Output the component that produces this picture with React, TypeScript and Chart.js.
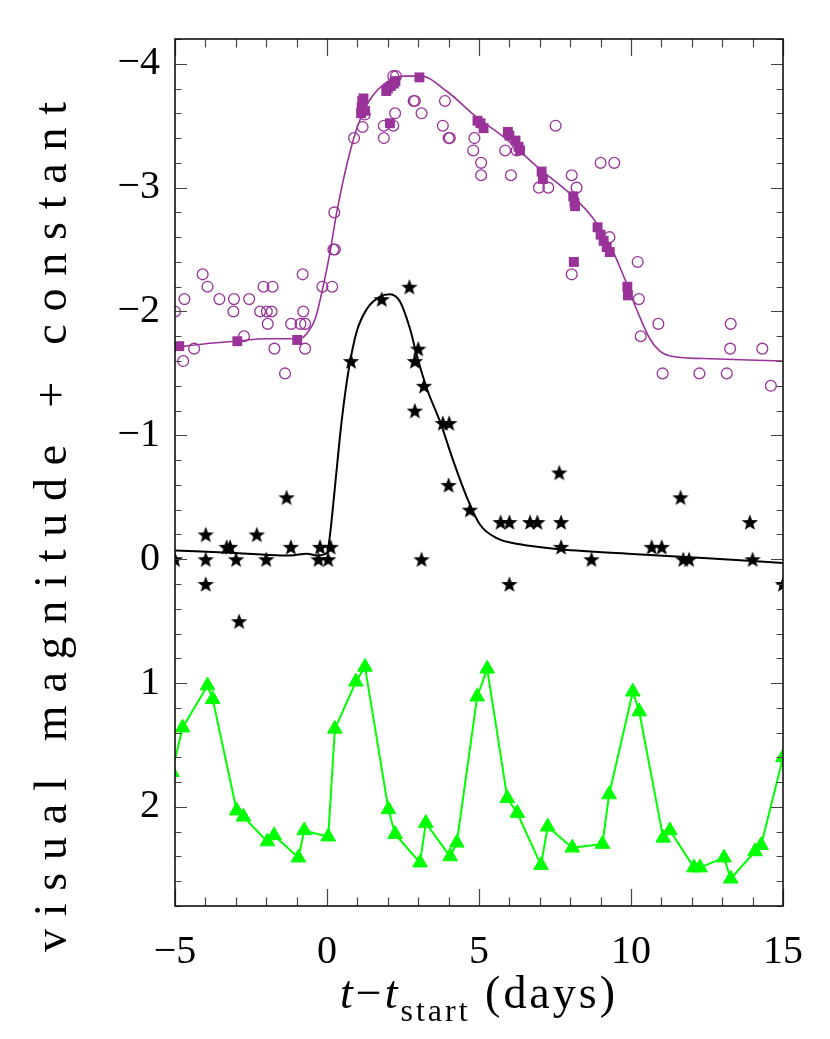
import React, { useEffect, useRef } from 'react';
import { Chart, registerables } from 'chart.js';
Chart.register(...registerables);

// ---- axis ticks ----
const xTickValues = [-5, 0, 5, 10, 15];
const yTickValues = [-4, -3, -2, -1, 0, 1, 2];
const xRange = [-5, 15];
const yRange = [-4.2, 2.8];

// ---- purple open circles ----
const purpleCircleX = [-5.0, -4.69, -4.73, -4.37, -4.09, -3.93, -3.54, -3.06, -3.08, -2.73, -2.56, -2.2, -2.09, -1.79, -1.98, -1.82, -1.95, -1.73, -1.38, -1.18, -0.8, -0.78, -0.87, -0.72, -0.72, -0.15, 0.17, 0.21, 0.26, 0.24, 0.89, 1.17, 1.24, 2.18, 2.27, 2.24, 1.87, 2.18, 1.87, 2.85, 2.89, 3.11, 3.88, 3.81, 4.0, 4.04, 4.85, 4.81, 5.07, 5.07, 6.05, 5.86, 6.24, 7.52, 6.97, 7.28, 8.05, 8.21, 8.05, 9.0, 9.45, 9.29, 10.22, 10.26, 10.9, 10.32, 11.04, 12.25, 13.15, 13.28, 13.26, 14.32, 14.6];
const purpleCircleY = [-2.0, -2.1, -1.6, -1.7, -2.3, -2.2, -2.1, -2.1, -2.0, -1.8, -2.1, -2.0, -2.2, -2.2, -2.0, -2.0, -1.9, -1.7, -1.5, -1.9, -2.3, -2.0, -1.9, -1.9, -1.7, -2.2, -2.2, -2.5, -2.5, -2.8, -3.4, -3.49, -3.59, -3.9, -3.9, -3.6, -3.5, -3.5, -3.4, -3.7, -3.7, -3.6, -3.7, -3.5, -3.4, -3.4, -3.4, -3.3, -3.2, -3.1, -3.1, -3.3, -3.3, -3.5, -3.0, -3.0, -3.1, -3.0, -2.3, -3.2, -3.2, -2.6, -2.4, -2.1, -1.9, -1.8, -1.5, -1.5, -1.5, -1.9, -1.7, -1.7, -1.4];

// ---- purple filled squares ----
const purpleSquareX = [-4.86, -2.95, -0.98, 1.12, 1.14, 1.16, 1.2, 1.25, 1.95, 2.0, 2.1, 2.2, 2.25, 2.07, 3.04, 4.95, 5.05, 5.15, 5.95, 6.0, 6.2, 6.3, 6.35, 7.06, 7.1, 8.1, 8.14, 8.16, 8.12, 8.9, 9.0, 9.1, 9.2, 9.3, 9.88, 9.9];
const purpleSquareY = [-1.72, -1.76, -1.77, -3.6, -3.65, -3.7, -3.72, -3.62, -3.78, -3.8, -3.82, -3.84, -3.86, -3.52, -3.89, -3.54, -3.52, -3.48, -3.45, -3.42, -3.38, -3.33, -3.3, -3.13, -3.07, -2.93, -2.88, -2.85, -2.4, -2.68, -2.62, -2.57, -2.52, -2.48, -2.2, -2.13];

// ---- purple smooth curve ----
const purpleCurveX = [-5, -4, -3, -2, -1, -0.8, -0.67, -0.39, -0.12, 0.1, 0.32, 0.59, 0.87, 1.09, 1.41, 1.96, 2.51, 3.1, 3.93, 4.87, 5.91, 7.0, 8.0, 8.76, 9.36, 9.8, 10.18, 10.62, 10.95, 11.28, 12.38, 15];
const purpleCurveY = [-1.71, -1.74, -1.76, -1.78, -1.78, -1.79, -1.82, -1.94, -2.21, -2.48, -2.8, -3.12, -3.39, -3.55, -3.71, -3.85, -3.9, -3.9, -3.78, -3.58, -3.39, -3.15, -2.95, -2.75, -2.51, -2.26, -2.02, -1.78, -1.68, -1.64, -1.62, -1.6];

// ---- black stars ----
const starX = [-5.0, -3.99, -3.99, -3.99, -3.3, -3.19, -2.99, -2.89, -2.31, -2.0, -1.33, -1.19, -0.23, -0.28, 0.04, 0.12, 0.79, 1.8, 2.71, 3.0, 2.89, 3.19, 2.89, 3.11, 3.81, 4.02, 4.0, 4.7, 5.71, 6.0, 6.0, 6.68, 6.92, 7.64, 7.7, 7.7, 8.7, 10.68, 11.01, 11.63, 11.72, 11.91, 13.91, 14.0, 15.0];
const starY = [0, -0.2, 0, 0.2, -0.1, -0.1, 0, 0.5, -0.2, 0, -0.5, -0.1, -0.1, 0, 0, -0.1, -1.6, -2.1, -2.2, -1.7, -1.6, -1.4, -1.2, 0, -1.1, -1.1, -0.6, -0.4, -0.3, -0.3, 0.2, -0.3, -0.3, -0.7, -0.3, -0.1, 0, -0.1, -0.1, -0.5, 0, 0, -0.3, 0, 0.2];

// ---- black smooth curve ----
const blackCurveX = [-5, -3, -1.5, -1.2, -0.67, -0.34, 0.0, 0.1, 0.26, 0.48, 0.7, 0.98, 1.31, 1.74, 2.07, 2.4, 2.73, 2.95, 3.28, 3.72, 4.16, 4.6, 5.03, 5.58, 6.35, 7.66, 10.19, 12.38, 15];
const blackCurveY = [-0.07, -0.05, -0.03, -0.03, -0.045, -0.03, -0.05, -0.2, -0.58, -1.11, -1.51, -1.84, -2.02, -2.12, -2.14, -2.08, -1.86, -1.65, -1.38, -1.11, -0.79, -0.5, -0.28, -0.17, -0.12, -0.08, -0.04, -0.01, 0.03];

// ---- green triangles (connected) ----
const greenX = [-5.1, -4.75, -3.93, -3.76, -2.97, -2.75, -1.96, -1.74, -0.94, -0.75, 0.04, 0.26, 0.95, 1.25, 2.02, 2.24, 3.06, 3.25, 4.05, 4.27, 4.94, 5.27, 5.93, 6.26, 7.04, 7.26, 8.07, 9.06, 9.28, 10.06, 10.27, 11.06, 11.28, 12.07, 12.27, 13.06, 13.28, 14.08, 14.28, 15.0];
const greenY = [1.72, 1.36, 1.02, 1.13, 2.03, 2.08, 2.28, 2.23, 2.41, 2.19, 2.24, 1.37, 0.99, 0.87, 2.02, 2.22, 2.45, 2.13, 2.4, 2.29, 1.11, 0.885, 1.93, 2.05, 2.47, 2.16, 2.33, 2.3, 1.9, 1.07, 1.23, 2.25, 2.19, 2.49, 2.49, 2.41, 2.58, 2.36, 2.31, 1.6];

const yTitle = 'visual magnitude + constant';

const PURPLE = '#993399';
const GREEN = '#00ff00';
const FONT = '"Liberation Serif", "DejaVu Serif", serif';

const zip = (xs: number[], ys: number[]) => xs.map((x, i) => ({ x, y: ys[i] }));
const fmt = (v: number) => (v < 0 ? '\u2212' + Math.abs(v) : String(v));

function makeStar(R: number, r: number) {
  const size = Math.ceil(R * 2 + 2);
  const c = document.createElement('canvas');
  c.width = size;
  c.height = size;
  const g = c.getContext('2d')!;
  const cx = size / 2;
  const cy = size / 2 + R * 0.1;
  g.beginPath();
  for (let i = 0; i < 10; i++) {
    const rad = i % 2 === 0 ? R : r;
    const ang = -Math.PI / 2 + (i * Math.PI) / 5;
    const px = cx + rad * Math.cos(ang);
    const py = cy + rad * Math.sin(ang);
    if (i === 0) g.moveTo(px, py);
    else g.lineTo(px, py);
  }
  g.closePath();
  g.fillStyle = '#000';
  g.fill();
  return c;
}

function drawSpaced(ctx: CanvasRenderingContext2D, text: string, x: number, y: number, spacing: number) {
  let cx = x;
  for (const ch of text) {
    ctx.fillText(ch, cx, y);
    cx += ctx.measureText(ch).width + spacing;
  }
  return cx;
}

const framePlugin = {
  id: 'framePlugin',
  afterDraw(chart: any) {
    const { ctx, chartArea: a, scales } = chart;
    const xs = scales.x;
    const ys = scales.y;
    ctx.save();
    // ticks
    ctx.strokeStyle = '#444';
    ctx.lineWidth = 1.2;
    ctx.beginPath();
    for (let v = xRange[0]; v <= xRange[1] + 1e-9; v += 1) {
      const px = Math.round(xs.getPixelForValue(v)) + 0.5;
      const major = Math.abs(v % 5) < 1e-9;
      const len = major ? 17 : 8.5;
      ctx.moveTo(px, a.bottom);
      ctx.lineTo(px, a.bottom - len);
      ctx.moveTo(px, a.top);
      ctx.lineTo(px, a.top + len);
    }
    const nY = Math.round((yRange[1] - yRange[0]) / 0.2);
    for (let i = 0; i <= nY; i++) {
      const v = yRange[0] + i * 0.2;
      const py = Math.round(ys.getPixelForValue(v)) + 0.5;
      const major = Math.abs(v - Math.round(v)) < 1e-6;
      const len = major ? 12 : 6.5;
      ctx.moveTo(a.left, py);
      ctx.lineTo(a.left + len, py);
      ctx.moveTo(a.right, py);
      ctx.lineTo(a.right - len, py);
    }
    ctx.stroke();
    // frame
    ctx.strokeStyle = '#111';
    ctx.lineWidth = 1.6;
    ctx.strokeRect(a.left, a.top, a.right - a.left, a.bottom - a.top);

    // y title
    ctx.fillStyle = '#000';
    ctx.font = `46px ${FONT}`;
    ctx.textBaseline = 'alphabetic';
    ctx.textAlign = 'left';
    const chars = Array.from(yTitle);
    const natural = ctx.measureText(yTitle).width;
    const targetSpan = 850;
    const sp = (targetSpan - natural) / (chars.length - 1);
    ctx.save();
    ctx.translate(66, 527);
    ctx.rotate(-Math.PI / 2);
    drawSpaced(ctx, yTitle, -targetSpan / 2, 0, sp);
    ctx.restore();

    // x title: t−t_start (days)
    const mainFont = `46px ${FONT}`;
    const itFont = `italic 46px ${FONT}`;
    const subFont = `32px ${FONT}`;
    const pieces = [
      { t: 't', f: itFont, dy: 0 },
      { t: '\u2212', f: mainFont, dy: 0 },
      { t: 't', f: itFont, dy: 0 },
      { t: 'start', f: subFont, dy: 13 },
      { t: ' (days)', f: mainFont, dy: 0 },
    ];
    let total = 0;
    let count = 0;
    for (const p of pieces) {
      ctx.font = p.f;
      total += ctx.measureText(p.t).width;
      count += Array.from(p.t).length;
    }
    const span = 275;
    const s2 = (span - total) / (count - 1);
    let cx = 340;
    const baseY = 1008;
    for (const p of pieces) {
      ctx.font = p.f;
      cx = drawSpaced(ctx, p.t, cx, baseY + p.dy, s2);
    }
    ctx.restore();
  },
};

export default function App() {
  const ref = useRef<HTMLCanvasElement | null>(null);
  useEffect(() => {
    document.body.style.margin = '0';
    const canvas = ref.current!;
    const star = makeStar(8.6, 3.6);
    const chart = new Chart(canvas, {
      type: 'scatter',
      data: {
        datasets: [
          {
            data: zip(purpleCurveX, purpleCurveY),
            showLine: true,
            borderColor: PURPLE,
            borderWidth: 1.6,
            pointRadius: 0,
            cubicInterpolationMode: 'monotone',
            clip: 0,
          } as any,
          {
            data: zip(purpleCircleX, purpleCircleY),
            pointStyle: 'circle',
            pointRadius: 5.4,
            borderWidth: 1.3,
            borderColor: PURPLE,
            backgroundColor: 'rgba(0,0,0,0)',
            clip: 0,
          },
          {
            data: zip(purpleSquareX, purpleSquareY),
            pointStyle: 'rect',
            pointRadius: 7,
            borderWidth: 0,
            borderColor: PURPLE,
            backgroundColor: PURPLE,
            clip: 0,
          },
          {
            data: zip(blackCurveX, blackCurveY),
            showLine: true,
            borderColor: '#000',
            borderWidth: 2,
            pointRadius: 0,
            cubicInterpolationMode: 'monotone',
            clip: 0,
          } as any,
          {
            data: zip(starX, starY),
            pointStyle: star,
            pointRadius: 8,
            clip: 0,
          } as any,
          {
            data: zip(greenX, greenY),
            showLine: true,
            borderColor: GREEN,
            borderWidth: 2,
            tension: 0,
            pointStyle: 'triangle',
            pointRadius: 8.5,
            pointBorderWidth: 1,
            pointBorderColor: GREEN,
            pointBackgroundColor: GREEN,
            clip: 0,
          } as any,
        ],
      },
      options: {
        responsive: false,
        animation: false,
        devicePixelRatio: 1,
        layout: { padding: { top: 37, right: 47, left: 0, bottom: 0 } },
        plugins: { legend: { display: false }, tooltip: { enabled: false } },
        events: [],
        scales: {
          x: {
            type: 'linear',
            min: xRange[0],
            max: xRange[1],
            grid: { display: false, drawTicks: false },
            border: { display: false },
            ticks: {
              padding: 22,
              color: '#000',
              font: { family: FONT, size: 40 },
              callback: (v: any) => fmt(Number(v)),
              maxRotation: 0,
              autoSkip: false,
            },
            afterBuildTicks: (s: any) => {
              s.ticks = xTickValues.map((v) => ({ value: v }));
            },
            afterFit: (s: any) => {
              s.height = 133;
            },
          },
          y: {
            type: 'linear',
            reverse: true,
            min: yRange[0],
            max: yRange[1],
            grid: { display: false, drawTicks: false },
            border: { display: false },
            ticks: {
              padding: 15,
              color: '#000',
              font: { family: FONT, size: 40 },
              callback: (v: any) => fmt(Number(v)),
              autoSkip: false,
            },
            afterBuildTicks: (s: any) => {
              s.ticks = yTickValues.map((v) => ({ value: v }));
            },
            afterFit: (s: any) => {
              s.width = 175;
            },
          },
        },
      } as any,
      plugins: [framePlugin],
    });
    return () => chart.destroy();
  }, []);
  return (
    <div style={{ position: 'absolute', left: 0, top: 0, width: 830, height: 1039, background: '#fff' }}>
      <canvas ref={ref} width={830} height={1039} style={{ display: 'block' }} />
    </div>
  );
}
